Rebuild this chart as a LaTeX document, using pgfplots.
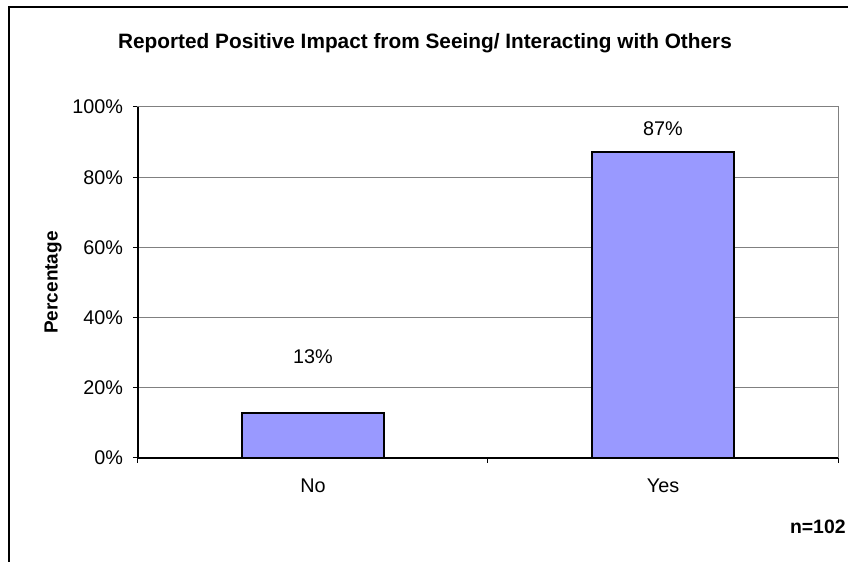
\documentclass[border=0pt]{standalone}
\usepackage{pgfplots}
\pgfplotsset{compat=1.18}
\usepackage{fontspec}
\setmainfont{Liberation Sans}
\definecolor{barfill}{RGB}{153,153,255}
\definecolor{gridc}{RGB}{128,128,128}
\begin{document}
\begin{tikzpicture}[x=0.5pt,y=0.5pt]
\useasboundingbox (0,0) rectangle (848,562);
\draw[line width=0.6pt] (9,-20) -- (9,555) -- (900,555);
\node[font=\bfseries\fontsize{10.4}{12}\selectfont] at (425,519) {Reported Positive Impact from Seeing/ Interacting with Others};
\node[font=\bfseries\fontsize{9.7}{11}\selectfont, anchor=east, inner sep=0pt] at (846,35) {n=102};
\begin{axis}[
  at={(69pt,52pt)}, anchor=south west,
  width=350pt, height=175.5pt, scale only axis,
  xmin=-0.5, xmax=1.5, ymin=0, ymax=100,
  ytick={0,20,40,60,80,100},
  yticklabel={\pgfmathprintnumber{\tick}\%},
  /pgf/number format/assume math mode=true,
  xtick={0,1}, xticklabels={No,Yes},
  minor xtick={-0.5,0.5,1.5},
  major x tick style={draw=none},
  xtick pos=bottom, ytick pos=left,
  tick align=outside,
  major tick length=2.5pt, minor tick length=2.5pt,
  tick style={black, line width=0.5pt},
  ymajorgrids, grid style={gridc, line width=0.5pt},
  axis line style={gridc, line width=0.5pt},
  ticklabel style={font=\fontsize{9.9}{11}\selectfont},
  yticklabel style={xshift=-1.5pt},
  xticklabel style={yshift=-4.5pt},
  ylabel={Percentage},
  ylabel style={font=\bfseries\fontsize{9.5}{11}\selectfont, yshift=-1.5pt},
  clip=false,
]
\addplot[ybar, bar width=0.403, fill=barfill, draw=black, line width=1pt] coordinates {(0,12.75) (1,87.25)};
\draw[black, line width=0.8pt] (rel axis cs:0,1) -- (rel axis cs:0,0) -- (rel axis cs:1,0);
\node[font=\fontsize{9.9}{11}\selectfont] at (axis cs:0,28.8) {13\%};
\node[font=\fontsize{9.9}{11}\selectfont] at (axis cs:1,93.7) {87\%};
\end{axis}
\end{tikzpicture}
\end{document}
